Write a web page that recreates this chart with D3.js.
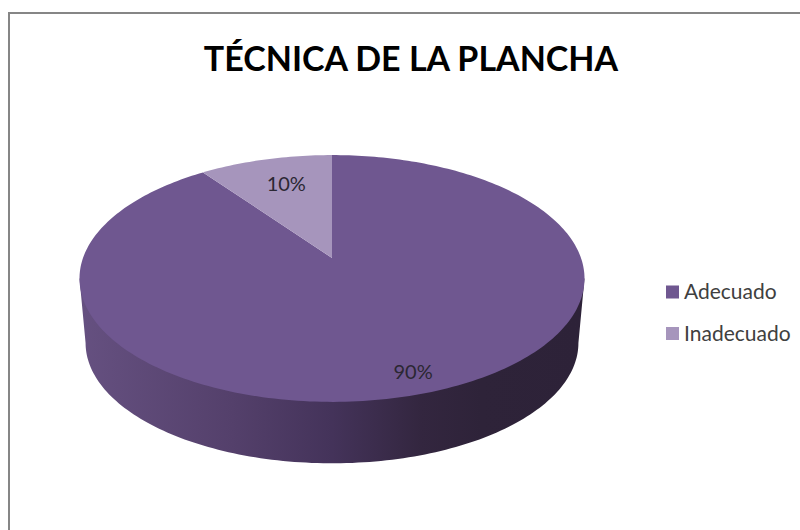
<!DOCTYPE html>
<html>
<head>
<meta charset="utf-8">
<script src="https://cdn.jsdelivr.net/npm/d3@7"></script>
<style>
  html, body { margin: 0; padding: 0; background: #fff; }
  text { font-family: Lato, "Open Sans", sans-serif; }
</style>
</head>
<body>
<div id="chart"></div>
<script>
var chart_title = 'TÉCNICA DE LA PLANCHA';
var categories = ['Adecuado', 'Inadecuado'];
var values = [90, 10];
var slice_colors = ['#6f5790', '#a695bc'];
var wall_offsets = [0, 0.3, 0.5, 0.68, 0.8, 1];
var wall_colors = ['#655080', '#54406b', '#44335a', '#33263f', '#2e2339', '#2d2238'];

var width = 800, height = 530;

var svg = d3.select('#chart').append('svg')
    .attr('width', width)
    .attr('height', height)
    .style('display', 'block');

// frame, only top and left edges show in the picture
svg.append('path')
    .attr('d', 'M9,530V13H800')
    .attr('fill', 'none')
    .attr('stroke', '#868686')
    .attr('stroke-width', 2);

svg.append('text')
    .attr('x', 411)
    .attr('y', 71)
    .attr('text-anchor', 'middle')
    .attr('font-size', 34)
    .attr('font-weight', 700)
    .attr('fill', '#000')
    .text(chart_title);

// the pie lies on a plane seen in perspective
var k = 0.166;
var top_plane = {x: 332, y: 258, a: 249, b: 120};
var low_plane = {x: 332, y: 323, a: 243, b: 117};

function project(plane, angle, f) {
    var u = Math.sin(angle) * f;
    var v = -Math.cos(angle) * f;
    var w = 1 - k * v;
    return [plane.x + plane.a * u / w, plane.y + plane.b * v / w];
}

function sweep(start, end) {
    var n = Math.max(2, Math.ceil(Math.abs(end - start) / 0.02));
    return d3.range(n + 1).map(function(i) { return start + (end - start) * i / n; });
}

var line = d3.line();

var grad = svg.append('defs').append('linearGradient')
    .attr('id', 'wall')
    .attr('gradientUnits', 'userSpaceOnUse')
    .attr('x1', top_plane.x - top_plane.a)
    .attr('x2', top_plane.x + top_plane.a)
    .attr('y1', 0)
    .attr('y2', 0);
grad.selectAll('stop')
    .data(wall_offsets)
    .enter()
    .append('stop')
    .attr('offset', function(d) { return d; })
    .attr('stop-color', function(d, i) { return wall_colors[i]; });

// side wall between the two widest points of the rim
var edge = Math.asin(k);
var wall_from = Math.PI * 1.5 - edge, wall_to = Math.PI / 2 + edge;
var wall_pts = sweep(wall_from, wall_to).map(function(t) { return project(low_plane, t, 1); });
wall_pts.unshift(project(top_plane, wall_from, 1));
wall_pts.push(project(top_plane, wall_to, 1));
svg.append('path')
    .attr('d', line(wall_pts) + 'Z')
    .attr('fill', 'url(#wall)');

var arcs = d3.pie().sort(null)(values);

svg.append('g')
    .selectAll('path')
    .data(arcs)
    .enter()
    .append('path')
    .attr('d', function(d) {
        var pts = sweep(d.startAngle, d.endAngle).map(function(t) { return project(top_plane, t, 1); });
        pts.unshift([top_plane.x, top_plane.y]);
        return line(pts) + 'Z';
    })
    .attr('fill', function(d, i) { return slice_colors[i]; });

var label_radius = [0.865, 0.72];
svg.append('g')
    .selectAll('text')
    .data(arcs)
    .enter()
    .append('text')
    .attr('transform', function(d, i) {
        var p = project(top_plane, (d.startAngle + d.endAngle) / 2, label_radius[i]);
        return 'translate(' + (p[0] + 4) + ',' + p[1] + ')';
    })
    .attr('text-anchor', 'middle')
    .attr('dy', '0.35em')
    .attr('font-size', 20)
    .attr('fill', '#2b2733')
    .text(function(d) { return d.value + '%'; });

var legend_y = d3.scalePoint().domain(categories).range([292, 333.5]);

var legend = svg.append('g')
    .selectAll('g')
    .data(categories)
    .enter()
    .append('g')
    .attr('transform', function(d) { return 'translate(666,' + legend_y(d) + ')'; });
legend.append('rect')
    .attr('x', 0)
    .attr('y', -6.5)
    .attr('width', 13)
    .attr('height', 13)
    .attr('fill', function(d, i) { return slice_colors[i]; });
legend.append('text')
    .attr('x', 18)
    .attr('y', 7)
    .attr('font-size', 21)
    .attr('fill', '#404040')
    .text(function(d) { return d; });
</script>
</body>
</html>
